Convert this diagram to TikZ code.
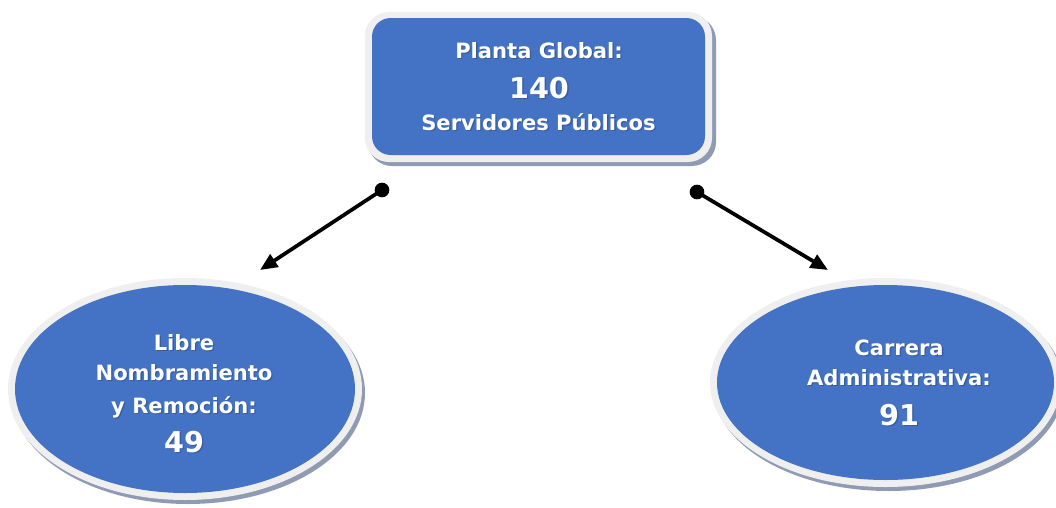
\documentclass[tikz,border=0pt]{standalone}
\usepackage{fontspec}
\setmainfont{DejaVu Sans}
\usetikzlibrary{arrows.meta,shapes.geometric,calc}
\definecolor{boxblue}{HTML}{4472C4}
\definecolor{rimgray}{HTML}{EFEFEF}
\definecolor{shadowgray}{HTML}{8E9BB2}
\definecolor{txtshadow}{HTML}{2C4A80}
\newcommand{\lbl}[4]{%
  \node[anchor=base,text=txtshadow,opacity=0.55,font=#3] at ($(#2)+(1.3,1.3)$) {#4};
  \node[anchor=base,text=white,font=#3] (#1) at (#2) {#4};}
\begin{document}
\begin{tikzpicture}[x=0.75pt,y=-0.75pt,
  conn/.style={line width=2.8pt,-{Triangle[length=13pt,width=11pt]}},
  dot/.style={circle,fill=black,inner sep=0pt,minimum size=11pt}]
\useasboundingbox (0,0) rectangle (1056,507);
% top box
\fill[shadowgray,rounded corners=18] (368,16) rectangle (716,166);
\fill[rimgray,rounded corners=18] (365,12) rectangle (712,162);
\node[fill=boxblue,rounded corners=14,minimum width=333*0.75pt,minimum height=137*0.75pt,inner sep=0pt] (top) at (538.5,86.5) {};
% left ellipse
\fill[shadowgray] (188,393) ellipse [x radius=177, y radius=111];
\fill[rimgray] (185,389) ellipse [x radius=177, y radius=111];
\node[ellipse,fill=boxblue,minimum width=340*0.75pt,minimum height=208*0.75pt,inner sep=0pt] (left) at (185,389) {};
% right ellipse
\fill[shadowgray] (888.5,386.5) ellipse [x radius=175.5, y radius=104.5];
\fill[rimgray] (885.5,382.5) ellipse [x radius=175.5, y radius=104.5];
\node[ellipse,fill=boxblue,minimum width=337*0.75pt,minimum height=195*0.75pt,inner sep=0pt] (right) at (885.5,382.5) {};
% texts
\lbl{t1}{539,58}{\fontsize{15.8}{18}\selectfont\bfseries}{Planta Global:}
\lbl{t2}{539,98}{\fontsize{21.5}{24}\selectfont\bfseries}{140}
\lbl{t3}{538.5,130}{\fontsize{15.8}{18}\selectfont\bfseries}{Servidores Públicos}
\lbl{l1}{184,350}{\fontsize{15.8}{18}\selectfont\bfseries}{Libre}
\lbl{l2}{184,380}{\fontsize{15.8}{18}\selectfont\bfseries}{Nombramiento}
\lbl{l3}{184,413}{\fontsize{15.8}{18}\selectfont\bfseries}{y Remoción:}
\lbl{l4}{184,452}{\fontsize{21.5}{24}\selectfont\bfseries}{49}
\lbl{r1}{899,355}{\fontsize{15.8}{18}\selectfont\bfseries}{Carrera}
\lbl{r2}{899,385}{\fontsize{15.8}{18}\selectfont\bfseries}{Administrativa:}
\lbl{r3}{899,425}{\fontsize{21.5}{24}\selectfont\bfseries}{91}
% connectors
\node[dot] (d1) at (382,190) {};
\node[dot] (d2) at (697,192) {};
\coordinate (e1) at (260,270);
\coordinate (e2) at (828,270);
\draw[conn] (d1.center) -- (e1);
\draw[conn] (d2.center) -- (e2);
\end{tikzpicture}
\end{document}
